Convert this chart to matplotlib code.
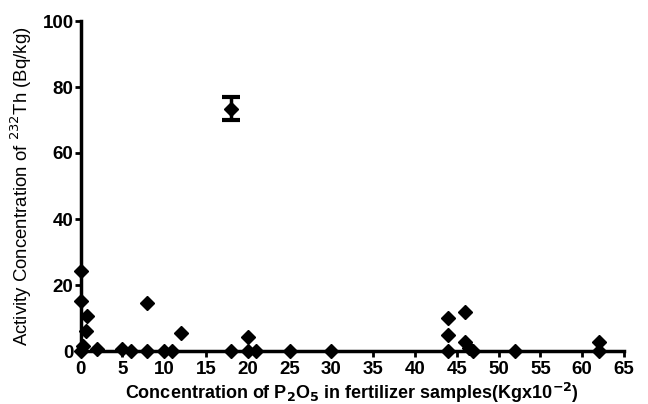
import matplotlib
matplotlib.use("Agg")
import matplotlib.pyplot as plt
import numpy as np

x_p2o5 = [0, 0, 0.8, 0.6, 0, 0.3, 2, 5, 6, 8, 8, 10, 11, 12, 18, 18, 20, 20, 21, 25, 30,
          44, 44, 44, 46, 46, 46.5, 47, 52, 62, 62]
th232 = [24.3, 15.1, 10.5, 6.0, 0, 1.5, 0.5, 0.5, 0, 14.6, 0, 0, 0, 5.5, 73.4, 0, 4.2, 0, 0, 0, 0,
         9.9, 5.0, 0, 11.7, 2.7, 1, 0, 0, 2.7, 0]
th_err = [0, 0, 0, 0, 0, 0, 0, 0, 0, 0, 0, 0, 0, 0, 3.5, 0, 0, 0, 0, 0, 0,
          0, 0, 0, 0, 0, 0, 0, 0, 0, 0]

xticks = list(range(0, 70, 5))
yticks = [0, 20, 40, 60, 80, 100]

plt.rcParams['font.family'] = ['Liberation Sans', 'DejaVu Sans']
fig = plt.figure(figsize=(6.48, 4.04), dpi=100)
ax = fig.add_axes([80.5/648, 1-351/404, (624-80.5)/648, (351-21)/404])

xa = np.array(x_p2o5); ya = np.array(th232); ea = np.array(th_err)
ax.plot(xa, ya, 'D', color='black', markersize=7.5, clip_on=False, zorder=3)
m = ea > 0
ax.errorbar(xa[m], ya[m], yerr=ea[m], fmt='none', ecolor='black', elinewidth=2.5,
            capsize=6.5, capthick=3, clip_on=False, zorder=3)

ax.set_xlim(0, 65)
ax.set_ylim(0, 100)
ax.set_xticks(xticks)
ax.set_yticks(yticks)
for s in ['top', 'right']:
    ax.spines[s].set_visible(False)
for s in ['left', 'bottom']:
    ax.spines[s].set_linewidth(2.5)
ax.tick_params(axis='both', width=2, length=4, labelsize=13.5)
ax.tick_params(axis='x', pad=3)
ax.tick_params(axis='y', pad=1)
for lab in ax.get_xticklabels() + ax.get_yticklabels():
    lab.set_fontweight('bold')

ax.set_xlabel('Concentration of P$_\\mathbf{2}$O$_\\mathbf{5}$ in fertilizer samples(Kgx10$^{\\mathbf{-2}}$)',
              fontsize=13, fontweight='bold', labelpad=2)
ax.set_ylabel('Activity Concentration of $^{232}$Th (Bq/kg)', fontsize=13.4, labelpad=6)

fig.savefig('out.png', dpi=100)
